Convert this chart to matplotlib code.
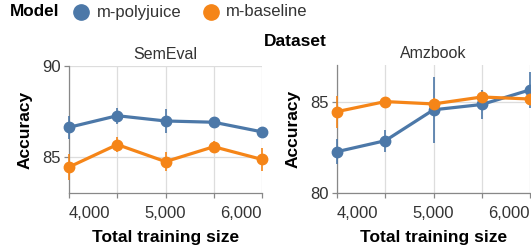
import matplotlib.pyplot as plt

plt.rcParams['font.family'] = ['Liberation Sans', 'DejaVu Sans']

# データ
sizes = [4000, 4500, 5000, 5500, 6000]
tick_labels = ["4,000", "", "5,000", "", "6,000"]

semeval_poly = [86.62, 87.26, 86.97, 86.9, 86.37]
semeval_poly_err = [0.65, 0.43, 0.64, 0.25, 0.2]
semeval_base = [84.43, 85.67, 84.73, 85.55, 84.85]
semeval_base_err = [0.73, 0.41, 0.54, 0.3, 0.64]

amz_poly = [82.26, 82.86, 84.55, 84.84, 85.64]
amz_poly_err = [0.68, 0.6, 1.8, 0.8, 1.0]
amz_base = [84.45, 85.0, 84.87, 85.25, 85.14]
amz_base_err = [0.88, 0.2, 0.3, 0.3, 0.3]

blue = "#4c78a8"
orange = "#f58518"

fig = plt.figure(figsize=(5.31, 2.52), dpi=100)

panels = [
    ("SemEval", 69, 66, (83, 90), [85, 90],
     semeval_poly, semeval_poly_err, semeval_base, semeval_base_err),
    ("Amzbook", 337, 65, (80, 87), [80, 85],
     amz_poly, amz_poly_err, amz_base, amz_base_err),
]

W, H = 531, 252
for title, x0, y0, ylim, yticks, poly, poly_err, base, base_err in panels:
    ax = fig.add_axes([x0 / W, 1 - 193 / H, 193 / W, (193 - y0) / H])
    for vals, errs, col in [(poly, poly_err, blue), (base, base_err, orange)]:
        ax.errorbar(sizes, vals, yerr=errs, fmt="none", ecolor=col,
                    elinewidth=1.2, clip_on=False, zorder=3)
        ax.plot(sizes, vals, color=col, linewidth=2.3, marker="o",
                markersize=7.5, clip_on=False, zorder=4)
    ax.set_xlim(4000, 6000)
    ax.set_ylim(*ylim)
    ax.set_xticks(sizes)
    ax.set_xticklabels(tick_labels)
    lbls = ax.get_xticklabels()
    lbls[0].set_ha("left")
    lbls[-1].set_ha("right")
    ax.set_yticks(yticks)
    ax.grid(True, color="#dddddd", linewidth=0.9, zorder=0)
    ax.set_axisbelow(True)
    for s in ["top", "right"]:
        ax.spines[s].set_visible(False)
    for s in ["left", "bottom"]:
        ax.spines[s].set_color("#888888")
        ax.spines[s].set_linewidth(0.9)
    ax.tick_params(colors="#888888", labelcolor="#333333", labelsize=12,
                   length=3.6, width=0.9)
    ax.tick_params(axis="x", pad=5.5)
    ax.tick_params(axis="y", pad=2.5)
    ax.set_title(title, fontsize=11.5, color="#333333", pad=5)
    ax.set_xlabel("Total training size", fontsize=12.5, fontweight="bold", labelpad=7)
    ax.set_ylabel("Accuracy", fontsize=12.5, fontweight="bold", labelpad=6.5)

# 凡例
fig.text(10 / W, 1 - 12 / H, "Model", fontsize=12.3, fontweight="bold", va="center")
fig.lines.append(plt.Line2D([81 / W], [1 - 12 / H], transform=fig.transFigure,
                            marker="o", markersize=11, color=blue, linestyle="none"))
fig.text(97 / W, 1 - 12 / H, "m-polyjuice", fontsize=12, color="#333333", va="center")
fig.lines.append(plt.Line2D([211 / W], [1 - 12 / H], transform=fig.transFigure,
                            marker="o", markersize=11, color=orange, linestyle="none"))
fig.text(226 / W, 1 - 12 / H, "m-baseline", fontsize=12, color="#333333", va="center")
fig.text(264 / W, 1 - 41 / H, "Dataset", fontsize=12.5, fontweight="bold", va="center")

plt.savefig("out.png", dpi=100)
